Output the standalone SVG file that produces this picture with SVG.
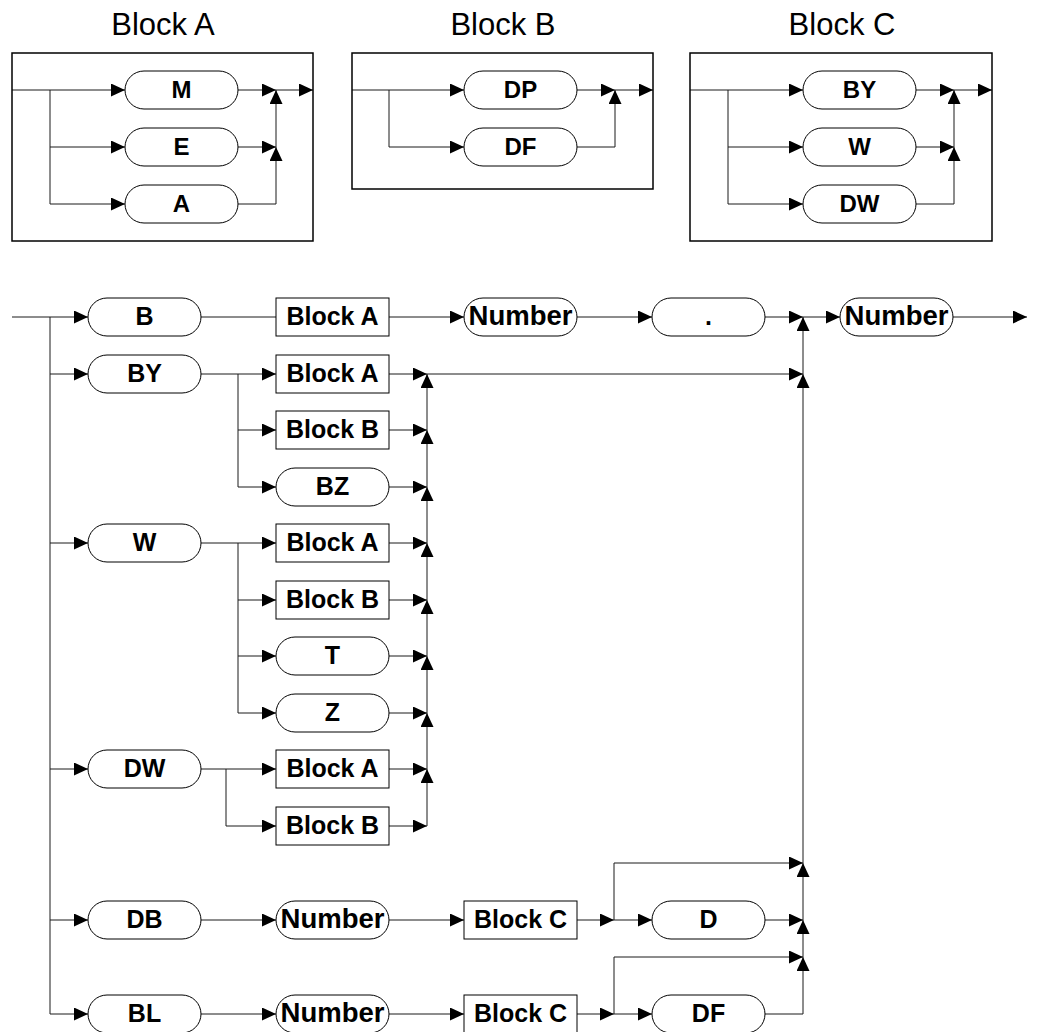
<svg xmlns="http://www.w3.org/2000/svg" width="1040" height="1032" viewBox="0 0 1040 1032">
<style>
.pill,.box{fill:#fff;stroke:#000;stroke-width:1}
.frame{fill:none;stroke:#000;stroke-width:1.5}
.lbl{font-family:"Liberation Sans",Arial,sans-serif;font-weight:bold;font-size:25px;text-anchor:middle;fill:#000}
.sm{font-size:24px}
.num{font-size:27px}
.ttl{font-family:"Liberation Sans",Arial,sans-serif;font-size:31px;text-anchor:middle;fill:#000}
.c{fill:none;stroke:#1a1a1a;stroke-width:1}
.a{marker-end:url(#ah)}
</style>
<defs>
<marker id="ah" markerUnits="userSpaceOnUse" markerWidth="14" markerHeight="13" refX="14" refY="6.5" orient="auto">
<path d="M0,0 L14,6.5 L0,13 Z" fill="#000"/>
</marker>
</defs>
<rect width="1040" height="1032" fill="#fff"/>

<g id="connectors">
<!-- Block A -->
<path class="c" d="M12,90 H50"/>
<path class="c a" d="M50,90 H125"/>
<path class="c a" d="M50,90 V204 H125"/>
<path class="c a" d="M50,147 H125"/>
<path class="c a" d="M238,90 H276"/>
<path class="c a" d="M238,147 H276"/>
<path class="c a" d="M238,204 H276 V147"/>
<path class="c a" d="M276,147 V90"/>
<path class="c a" d="M276,90 H313"/>
<!-- Block B -->
<path class="c" d="M352,90 H389"/>
<path class="c a" d="M389,90 H464"/>
<path class="c a" d="M389,90 V147 H464"/>
<path class="c a" d="M577,90 H615"/>
<path class="c a" d="M577,147 H615 V90"/>
<path class="c a" d="M615,90 H653"/>
<!-- Block C -->
<path class="c" d="M690,90 H728"/>
<path class="c a" d="M728,90 H803"/>
<path class="c a" d="M728,90 V204 H803"/>
<path class="c a" d="M728,147 H803"/>
<path class="c a" d="M916,90 H954"/>
<path class="c a" d="M916,147 H954"/>
<path class="c a" d="M916,204 H954 V147"/>
<path class="c a" d="M954,147 V90"/>
<path class="c a" d="M954,90 H992"/>
<!-- main entry -->
<path class="c" d="M12,317 H50"/>
<path class="c a" d="M50,317 H88"/>
<path class="c a" d="M50,317 V1014 H88"/>
<path class="c a" d="M50,374 H88"/>
<path class="c a" d="M50,543 H88"/>
<path class="c a" d="M50,769 H88"/>
<path class="c a" d="M50,920 H88"/>
<!-- B row -->
<path class="c" d="M201,317 H276"/>
<path class="c a" d="M389,317 H464"/>
<path class="c a" d="M577,317 H652"/>
<path class="c a" d="M765,317 H803"/>
<path class="c a" d="M803,317 H840"/>
<path class="c a" d="M953,317 H1027"/>
<!-- BY -->
<path class="c" d="M201,374 H238"/>
<path class="c a" d="M238,374 H276"/>
<path class="c a" d="M238,374 V487 H276"/>
<path class="c a" d="M238,430 H276"/>
<!-- W -->
<path class="c" d="M201,543 H238"/>
<path class="c a" d="M238,543 H276"/>
<path class="c a" d="M238,543 V713 H276"/>
<path class="c a" d="M238,600 H276"/>
<path class="c a" d="M238,656 H276"/>
<!-- DW -->
<path class="c" d="M201,769 H226"/>
<path class="c a" d="M226,769 H276"/>
<path class="c a" d="M226,769 V826 H276"/>
<!-- join at 427 -->
<path class="c a" d="M389,374 H427"/>
<path class="c a" d="M389,430 H427"/>
<path class="c a" d="M389,487 H427"/>
<path class="c a" d="M389,543 H427"/>
<path class="c a" d="M389,600 H427"/>
<path class="c a" d="M389,656 H427"/>
<path class="c a" d="M389,713 H427"/>
<path class="c a" d="M389,769 H427"/>
<path class="c a" d="M389,826 H427"/>
<path class="c a" d="M427,430 V374"/>
<path class="c a" d="M427,487 V430"/>
<path class="c a" d="M427,543 V487"/>
<path class="c a" d="M427,600 V543"/>
<path class="c a" d="M427,656 V600"/>
<path class="c a" d="M427,713 V656"/>
<path class="c a" d="M427,769 V713"/>
<path class="c a" d="M427,826 V769"/>
<path class="c a" d="M427,374 H803"/>
<!-- join at 803 -->
<path class="c a" d="M803,374 V317"/>
<path class="c a" d="M803,863 V374"/>
<path class="c a" d="M803,920 V863"/>
<path class="c a" d="M803,957 V920"/>
<path class="c a" d="M765,1014 H803 V957"/>
<!-- DB -->
<path class="c a" d="M201,920 H276"/>
<path class="c a" d="M389,920 H464"/>
<path class="c a" d="M577,920 H614"/>
<path class="c a" d="M614,920 H652"/>
<path class="c a" d="M614,920 V863 H803"/>
<path class="c a" d="M765,920 H803"/>
<!-- BL -->
<path class="c a" d="M201,1014 H276"/>
<path class="c a" d="M389,1014 H464"/>
<path class="c a" d="M577,1014 H614"/>
<path class="c a" d="M614,1014 H652"/>
<path class="c a" d="M614,1014 V957 H803"/>
</g>

<!-- Block frames -->
<g id="blockA">
<text class="ttl" x="163" y="34.5">Block A</text>
<rect class="frame" x="12" y="53" width="301" height="188"/>
</g>
<g id="blockB">
<text class="ttl" x="503" y="34.5">Block B</text>
<rect class="frame" x="352" y="53" width="301" height="136"/>
</g>
<g id="blockC">
<text class="ttl" x="842" y="34.5">Block C</text>
<rect class="frame" x="690" y="53" width="302" height="188"/>
</g>

<g id="a-M"><rect class="pill" x="125" y="71" width="113" height="38" rx="19"/><text class="lbl sm" x="181.5" y="98">M</text></g>
<g id="a-E"><rect class="pill" x="125" y="128" width="113" height="38" rx="19"/><text class="lbl sm" x="181.5" y="155">E</text></g>
<g id="a-A"><rect class="pill" x="125" y="185" width="113" height="38" rx="19"/><text class="lbl sm" x="181.5" y="212">A</text></g>

<g id="b-DP"><rect class="pill" x="464" y="71" width="113" height="38" rx="19"/><text class="lbl sm" x="520.5" y="98">DP</text></g>
<g id="b-DF"><rect class="pill" x="464" y="128" width="113" height="38" rx="19"/><text class="lbl sm" x="520.5" y="155">DF</text></g>

<g id="c-BY"><rect class="pill" x="803" y="71" width="113" height="38" rx="19"/><text class="lbl sm" x="859.5" y="98">BY</text></g>
<g id="c-W"><rect class="pill" x="803" y="128" width="113" height="38" rx="19"/><text class="lbl sm" x="859.5" y="155">W</text></g>
<g id="c-DW"><rect class="pill" x="803" y="185" width="113" height="38" rx="19"/><text class="lbl sm" x="859.5" y="212">DW</text></g>

<!-- main diagram -->
<g id="n-B"><rect class="pill" x="88" y="298" width="113" height="38" rx="19"/><text class="lbl" x="144.5" y="325">B</text></g>
<g id="n-B-blockA"><rect class="box" x="276" y="298" width="113" height="38"/><text class="lbl" x="332.5" y="325">Block A</text></g>
<g id="n-B-number"><rect class="pill" x="464" y="298" width="113" height="38" rx="19"/><text class="lbl num" x="520.5" y="325" textLength="104" lengthAdjust="spacingAndGlyphs">Number</text></g>
<g id="n-dot"><rect class="pill" x="652" y="298" width="113" height="38" rx="19"/><text class="lbl" x="708.5" y="325">.</text></g>
<g id="n-number2"><rect class="pill" x="840" y="298" width="113" height="38" rx="19"/><text class="lbl num" x="896.5" y="325" textLength="104" lengthAdjust="spacingAndGlyphs">Number</text></g>

<g id="n-BY"><rect class="pill" x="88" y="355" width="113" height="38" rx="19"/><text class="lbl" x="144.5" y="382">BY</text></g>
<g id="n-BY-blockA"><rect class="box" x="276" y="355" width="113" height="38"/><text class="lbl" x="332.5" y="382">Block A</text></g>
<g id="n-BY-blockB"><rect class="box" x="276" y="411" width="113" height="38"/><text class="lbl" x="332.5" y="438">Block B</text></g>
<g id="n-BZ"><rect class="pill" x="276" y="468" width="113" height="38" rx="19"/><text class="lbl" x="332.5" y="495">BZ</text></g>

<g id="n-W"><rect class="pill" x="88" y="524" width="113" height="38" rx="19"/><text class="lbl" x="144.5" y="551">W</text></g>
<g id="n-W-blockA"><rect class="box" x="276" y="524" width="113" height="38"/><text class="lbl" x="332.5" y="551">Block A</text></g>
<g id="n-W-blockB"><rect class="box" x="276" y="581" width="113" height="38"/><text class="lbl" x="332.5" y="608">Block B</text></g>
<g id="n-T"><rect class="pill" x="276" y="637" width="113" height="38" rx="19"/><text class="lbl" x="332.5" y="664">T</text></g>
<g id="n-Z"><rect class="pill" x="276" y="694" width="113" height="38" rx="19"/><text class="lbl" x="332.5" y="721">Z</text></g>

<g id="n-DW"><rect class="pill" x="88" y="750" width="113" height="38" rx="19"/><text class="lbl" x="144.5" y="777">DW</text></g>
<g id="n-DW-blockA"><rect class="box" x="276" y="750" width="113" height="38"/><text class="lbl" x="332.5" y="777">Block A</text></g>
<g id="n-DW-blockB"><rect class="box" x="276" y="807" width="113" height="38"/><text class="lbl" x="332.5" y="834">Block B</text></g>

<g id="n-DB"><rect class="pill" x="88" y="901" width="113" height="38" rx="19"/><text class="lbl" x="144.5" y="928">DB</text></g>
<g id="n-DB-number"><rect class="pill" x="276" y="901" width="113" height="38" rx="19"/><text class="lbl num" x="332.5" y="928" textLength="104" lengthAdjust="spacingAndGlyphs">Number</text></g>
<g id="n-DB-blockC"><rect class="box" x="464" y="901" width="113" height="38"/><text class="lbl" x="520.5" y="928">Block C</text></g>
<g id="n-D"><rect class="pill" x="652" y="901" width="113" height="38" rx="19"/><text class="lbl" x="708.5" y="928">D</text></g>

<g id="n-BL"><rect class="pill" x="88" y="995" width="113" height="38" rx="19"/><text class="lbl" x="144.5" y="1022">BL</text></g>
<g id="n-BL-number"><rect class="pill" x="276" y="995" width="113" height="38" rx="19"/><text class="lbl num" x="332.5" y="1022" textLength="104" lengthAdjust="spacingAndGlyphs">Number</text></g>
<g id="n-BL-blockC"><rect class="box" x="464" y="995" width="113" height="38"/><text class="lbl" x="520.5" y="1022">Block C</text></g>
<g id="n-DF"><rect class="pill" x="652" y="995" width="113" height="38" rx="19"/><text class="lbl" x="708.5" y="1022">DF</text></g>
</svg>
